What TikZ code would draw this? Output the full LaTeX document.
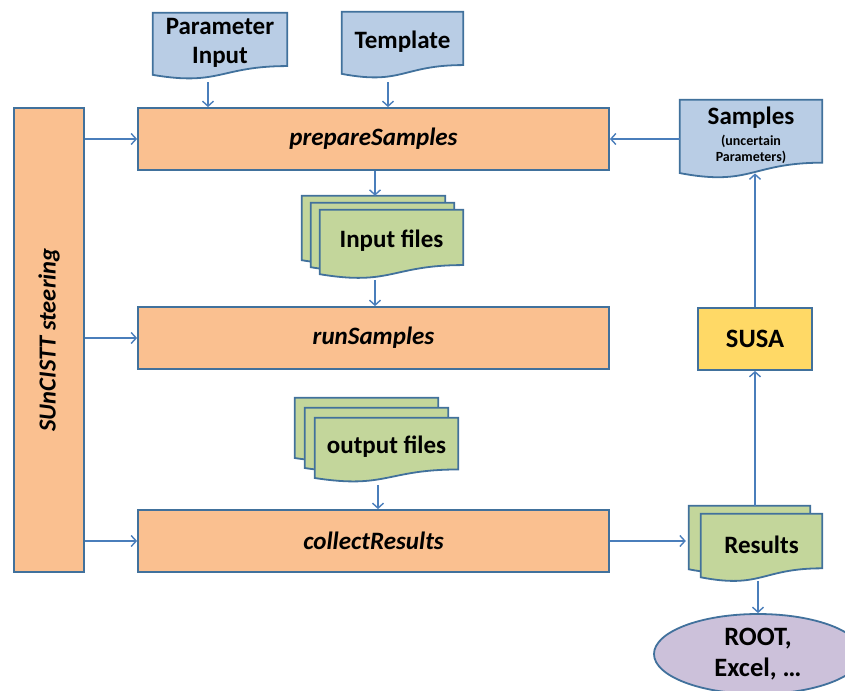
\documentclass[tikz,border=0pt]{standalone}
\usepackage{fontspec}
\setmainfont{Carlito}
\usetikzlibrary{shapes.geometric,arrows.meta,calc,backgrounds}
\definecolor{bord}{HTML}{41719C}
\definecolor{arrc}{HTML}{4A7EBB}
\definecolor{orangef}{HTML}{FAC090}
\definecolor{bluef}{HTML}{B9CDE5}
\definecolor{greenf}{HTML}{C3D69B}
\definecolor{yellowf}{HTML}{FFD966}
\definecolor{purplef}{HTML}{CCC1DA}
% document shape behind a node: #1 node, #2 fill, #3 dx, #4 dy (pt, canvas)
\newcommand\docbg[4]{%
  \path[draw=bord, line width=1.8pt, fill=#2]
    let \p1=(#1.north west), \p2=(#1.south east), \n1={\y1-\y2} in
    ({\x1+(#3)},{\y1+(#4)}) -- ({\x2+(#3)},{\y1+(#4)})
    -- ({\x2+(#3)},{\y1+(#4)-0.891*\n1})
    .. controls ({(\x1+\x2)/2+(#3)},{\y1+(#4)-0.891*\n1})
    and ({(\x1+\x2)/2+(#3)},{\y1+(#4)-1.23*\n1})
    .. ({\x1+(#3)},{\y1+(#4)-1.038*\n1}) -- cycle;}
\newcommand\smallsub{\fontsize{14}{16}\selectfont}
\tikzset{
  procbox/.style={draw=bord, line width=1.8pt, fill=orangef,
    minimum width=471pt, minimum height=62pt,
    font=\bfseries\itshape\fontsize{25}{29}\selectfont},
  docnode/.style={inner sep=0pt, align=center,
    font=\bfseries\fontsize{25}{29}\selectfont},
  arr/.style={draw=arrc, line width=1.4pt,
    -{Straight Barb[length=5pt,width=11pt]}},
}
\begin{document}
\begin{tikzpicture}[x=1pt,y=-1pt]
\useasboundingbox (0,0) rectangle (845,690);
\begin{pgfonlayer}{background}
\fill[white] (0,0) rectangle (845,690);
\end{pgfonlayer}

% process boxes
\node[procbox] (prep) at (373.5,139) {prepareSamples};
\node[procbox] (run) at (373.5,338) {runSamples};
\node[procbox] (coll) at (373.5,541) {collectResults};
\node[draw=bord, line width=1.8pt, fill=orangef, minimum width=70pt,
  minimum height=464pt, font=\bfseries\itshape\fontsize{24.5}{29}\selectfont]
  (st) at (49,340) {\rotatebox{90}{SUnCISTT steering}};
\node[draw=bord, line width=1.8pt, fill=yellowf, minimum width=114pt,
  minimum height=62pt, font=\bfseries\fontsize{26.5}{30}\selectfont]
  (susa) at (755,339) {SUSA};
\node[ellipse, draw=bord, line width=1.8pt, fill=purplef, minimum width=208pt,
  minimum height=80pt, align=center, inner sep=0pt,
  font=\bfseries\fontsize{26.5}{31}\selectfont]
  (root) at (758,654) {ROOT,\\Excel, …};

% document nodes
\node[docnode, minimum width=134pt, minimum height=59.4pt] (pi) at (220,42.7) {Parameter\\Input};
\node[docnode, minimum width=121pt, minimum height=59.4pt] (tpl) at (402.5,41.7) {Template};
\node[docnode, minimum width=142pt, minimum height=70.2pt,
  font=\bfseries\fontsize{25}{16}\selectfont] (smp) at (751,135.1)
  {Samples\\[5pt]{\smallsub (uncertain}\\{\smallsub Parameters)}};
\node[docnode, minimum width=143pt, minimum height=61.7pt] (inp) at (391.5,240.8) {Input files};
\node[docnode, minimum width=143pt, minimum height=57.6pt] (out) at (386.5,446.8) {output files};
\node[docnode, minimum width=121pt, minimum height=60.75pt] (res) at (761.5,544.4) {Results};

\coordinate (inpback) at ([shift={(-18pt,14pt)}]inp.north);
\coordinate (resback) at ([shift={(-12pt,8pt)}]res.north);

\begin{pgfonlayer}{background}
\docbg{pi}{bluef}{0}{0}
\docbg{tpl}{bluef}{0}{0}
\docbg{smp}{bluef}{0}{0}
\docbg{inp}{greenf}{-18}{14}
\docbg{inp}{greenf}{-9}{7}
\docbg{inp}{greenf}{0}{0}
\docbg{out}{greenf}{-20}{20}
\docbg{out}{greenf}{-10}{10}
\docbg{out}{greenf}{0}{0}
\docbg{res}{greenf}{-12}{8}
\docbg{res}{greenf}{0}{0}
\end{pgfonlayer}

% connectors
\draw[arr] ($(pi.south)+(-12,9.5)$) -- ($(pi.south |- prep.north)+(-12,0)$);
\draw[arr] ($(tpl.south)+(-14.5,10.5)$) -- ($(tpl.south |- prep.north)+(-14.5,0)$);
\draw[arr] ($(prep.south)+(1.5,0)$) -- ($(prep.south |- inpback)+(1.5,0)$);
\draw[arr] ($(inp.south -| run.north)+(1.5,8.3)$) -- ($(run.north)+(1.5,0)$);
\draw[arr] ($(out.south -| coll.north)+(4.5,9)$) -- ($(coll.north)+(4.5,0)$);
\draw[arr] (st.east |- prep.west) -- (prep.west);
\draw[arr] (st.east |- run.west) -- (run.west);
\draw[arr] (st.east |- coll.west) -- (coll.west);
\draw[arr] (coll.east) -- ($(coll.east -| res.west)+(-15,0)$);
\draw[arr] ($(res.south -| root.north)+(0,6)$) -- (root.north);
\draw[arr] (resback -| susa.south) -- (susa.south);
\draw[arr] (susa.north) -- ($(susa.north |- smp.south)+(0,3)$);
\draw[arr] (smp.west |- prep.east) -- (prep.east);
\end{tikzpicture}
\end{document}
